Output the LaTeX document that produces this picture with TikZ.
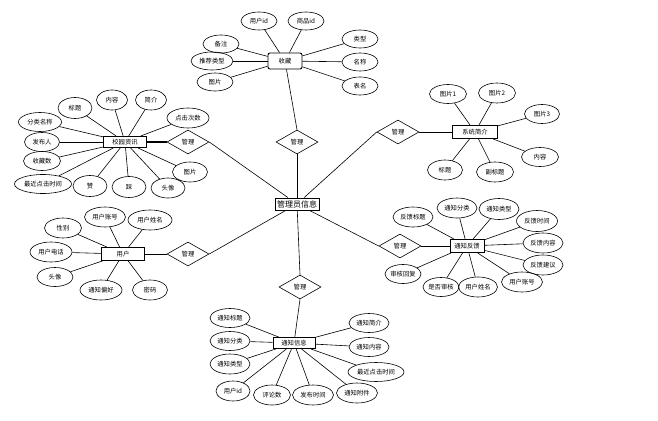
\documentclass[tikz,border=0pt]{standalone}
\usepackage{fontspec}
\newfontfamily\cjk{Noto Sans CJK SC}
\usetikzlibrary{shapes.geometric}
\begin{document}
\begin{tikzpicture}[x=1pt,y=-1pt,
  attr/.style={ellipse, draw, line width=0.6pt, minimum width=36pt, minimum height=18pt, inner sep=0pt, font=\cjk\fontsize{6.3}{7}\selectfont},
  ent/.style={rectangle, draw, line width=0.9pt, inner sep=0pt, minimum height=12pt, font=\cjk\fontsize{6.3}{7}\selectfont},
  rel/.style={diamond, draw, line width=0.6pt, minimum width=42pt, minimum height=24pt, aspect=1.75, inner sep=0pt, font=\cjk\fontsize{6.3}{7}\selectfont},
  link/.style={line width=0.6pt},
  elink/.style={line width=0.9pt}]
\fill[white] (0,0) rectangle (658,420);
\useasboundingbox (0,0) rectangle (658,420);

% central entity
\node[ent, minimum width=44pt, minimum height=12pt, font=\cjk\fontsize{8}{9}\selectfont] (adm) at (297,204) {管理员信息};

% relationships
\node[rel] (dT) at (297,142) {管理};
\node[rel] (dB) at (300,287) {管理};
\node[rel] (dRU) at (398,132) {管理};
\node[rel] (dRL) at (400,246) {管理};
\node[rel] (dLU) at (188,142) {管理};
\node[rel] (dLL) at (188,254) {管理};

% entities
\node[ent, minimum width=34pt, minimum height=16pt, rounded corners=2pt] (sc) at (285,61) {收藏};
\node[ent, minimum width=43pt, minimum height=11pt] (xy) at (125,142) {校园资讯};
\node[ent, minimum width=45pt, minimum height=13pt] (xt) at (475,132) {系统简介};
\node[ent, minimum width=43pt, minimum height=13pt] (yh) at (123,254) {用户};
\node[ent, minimum width=34pt, minimum height=13pt] (fk) at (467,246) {通知反馈};
\node[ent, minimum width=42pt, minimum height=11pt] (tz) at (294,343) {通知信息};

% entity - relationship - central
\draw[link] (adm) -- (dT.south);
\draw[link] (dT.north) -- (sc);
\draw[link] (adm) -- (dB.north);
\draw[link] (dB.south) -- (tz);
\draw[link] (adm) -- (dRU.west);
\draw[elink] (dRU.east) -- (xt);
\draw[link] (adm) -- (dRL.west);
\draw[elink] (dRL.east) -- (fk);
\draw[link] (adm) -- (dLU.east);
\draw[line width=1.4pt] (dLU.west) -- (xy);
\draw[link] (adm) -- (dLL.east);
\draw[elink] (dLL.west) -- (yh);

% 收藏 attributes
\node[attr] (sc1) at (259,21) {用户id};
\node[attr] (sc2) at (306,21) {商品id};
\node[attr] (sc3) at (221,44) {备注};
\node[attr, minimum width=42pt] (sc4) at (212,61) {推荐类型};
\node[attr] (sc5) at (215,82) {图片};
\node[attr] (sc6) at (360,39) {类型};
\node[attr] (sc7) at (360,62) {名称};
\node[attr] (sc8) at (360,86) {表名};
\foreach \a in {sc1,sc2,sc3,sc4,sc5,sc6,sc7,sc8} \draw[link] (\a) -- (sc);

% 校园资讯 attributes
\node[attr, minimum width=34pt, minimum height=21pt] (xy1) at (75,108) {标题};
\node[attr, minimum width=31pt, minimum height=20pt] (xy2) at (112,100) {内容};
\node[attr, minimum width=31pt, minimum height=20pt] (xy3) at (151,100) {简介};
\node[attr, minimum width=42pt, minimum height=20pt] (xy4) at (188,118) {点击次数};
\node[attr, minimum width=43pt, minimum height=19pt] (xy5) at (40,122) {分类名称};
\node[attr, minimum width=35pt, minimum height=19pt] (xy6) at (42,142) {发布人};
\node[attr, minimum width=37pt, minimum height=19pt] (xy7) at (42,161) {收藏数};
\node[attr, minimum width=57pt, minimum height=19pt] (xy8) at (43,184) {最近点击时间};
\node[attr, minimum width=34pt, minimum height=21pt] (xy9) at (90,186) {赞};
\node[attr, minimum width=34pt, minimum height=21pt] (xy10) at (129,187) {踩};
\node[attr, minimum width=34pt, minimum height=20pt] (xy11) at (168,188) {头像};
\node[attr, minimum width=35pt, minimum height=20pt] (xy12) at (190,172) {图片};
\foreach \a in {xy1,xy2,xy3,xy4,xy5,xy6,xy7,xy8,xy9,xy10,xy11,xy12} \draw[link] (\a) -- (xy);

% 系统简介 attributes
\node[attr, minimum width=37pt, minimum height=19pt] (xt1) at (448,94) {图片1};
\node[attr, minimum width=37pt, minimum height=20pt] (xt2) at (497,93) {图片2};
\node[attr, minimum width=35pt, minimum height=19pt] (xt3) at (542,114) {图片3};
\node[attr, minimum width=37pt, minimum height=19pt] (xt4) at (540,157) {内容};
\node[attr, minimum width=35pt, minimum height=20pt] (xt5) at (445,170) {标题};
\node[attr, minimum width=37pt, minimum height=20pt] (xt6) at (495,172) {副标题};
\foreach \a in {xt1,xt2,xt3,xt4,xt5,xt6} \draw[link] (\a) -- (xt);

% 用户 attributes
\node[attr, minimum width=41pt, minimum height=20pt] (yh1) at (105,217) {用户账号};
\node[attr, minimum width=44pt, minimum height=20pt] (yh2) at (150,220) {用户姓名};
\node[attr, minimum width=37pt, minimum height=20pt] (yh3) at (63,228) {性别};
\node[attr, minimum width=42pt, minimum height=20pt] (yh4) at (51,252) {用户电话};
\node[attr, minimum width=36pt, minimum height=19pt] (yh5) at (55,277) {头像};
\node[attr, minimum width=42pt, minimum height=20pt] (yh6) at (101,290) {通知偏好};
\node[attr, minimum width=35pt, minimum height=20pt] (yh7) at (150,290) {密码};
\foreach \a in {yh1,yh2,yh3,yh4,yh5,yh6,yh7} \draw[link] (\a) -- (yh);

% 通知反馈 attributes
\node[attr, minimum width=40pt, minimum height=20pt] (fk1) at (413,217) {反馈标题};
\node[attr, minimum width=40pt, minimum height=20pt] (fk2) at (457,208) {通知分类};
\node[attr, minimum width=40pt, minimum height=21pt] (fk3) at (499,209) {通知类型};
\node[attr, minimum width=41pt, minimum height=21pt] (fk4) at (537,221) {反馈时间};
\node[attr, minimum width=40pt, minimum height=20pt] (fk5) at (543,243) {反馈内容};
\node[attr, minimum width=40pt, minimum height=20pt] (fk6) at (543,265) {反馈建议};
\node[attr, minimum width=41pt, minimum height=20pt] (fk7) at (522,282) {用户账号};
\node[attr, minimum width=39pt, minimum height=20pt] (fk8) at (478,287) {用户姓名};
\node[attr, minimum width=36pt, minimum height=19pt] (fk9) at (441,287) {是否审核};
\node[attr, minimum width=36pt, minimum height=19pt] (fk10) at (403,274) {审核回复};
\foreach \a in {fk1,fk2,fk3,fk4,fk5,fk6,fk7,fk8,fk9,fk10} \draw[link] (\a) -- (fk);

% 通知信息 attributes
\node[attr, minimum width=40pt, minimum height=19pt] (tz1) at (230,318) {通知标题};
\node[attr, minimum width=40pt, minimum height=19pt] (tz2) at (230,341) {通知分类};
\node[attr, minimum width=40pt, minimum height=20pt] (tz3) at (230,364) {通知类型};
\node[attr, minimum width=34pt, minimum height=20pt] (tz4) at (233,391) {用户id};
\node[attr, minimum width=37pt, minimum height=20pt] (tz5) at (272,395) {评论数};
\node[attr, minimum width=41pt, minimum height=20pt] (tz6) at (313,395) {发布时间};
\node[attr, minimum width=41pt, minimum height=20pt] (tz7) at (357,393) {通知附件};
\node[attr, minimum width=56pt, minimum height=19pt] (tz8) at (376,372) {最近点击时间};
\node[attr, minimum width=40pt, minimum height=19pt] (tz9) at (369,347) {通知内容};
\node[attr, minimum width=40pt, minimum height=19pt] (tz10) at (369,323) {通知简介};
\foreach \a in {tz1,tz2,tz3,tz4,tz5,tz6,tz7,tz8,tz9,tz10} \draw[link] (\a) -- (tz);
\end{tikzpicture}
\end{document}
